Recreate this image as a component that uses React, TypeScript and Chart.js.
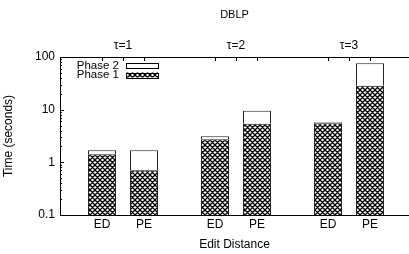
import React, { useEffect, useRef } from 'react';
import { Chart, registerables } from 'chart.js';

Chart.register(...registerables);

// ---- data ----
const chartTitle = 'DBLP';
const taus = [1, 2, 3];
const tauLabels = ['τ=1', 'τ=2', 'τ=3'];
const methods = ['ED', 'PE'];
const edPhase1 = [1.43, 2.75, 5.5];
const edPhase2 = [0.27, 0.39, 0.25];
const pePhase1 = [0.71, 5.4, 28.4];
const pePhase2 = [0.99, 4.1, 47.6];
const yMajorTicks = [0.1, 1, 10, 100];
const yTickLabels = ['0.1', '1', '10', '100'];
const seriesLabels = ['Phase 1', 'Phase 2'];
const xTitle = 'Edit Distance';
const yTitle = 'Time (seconds)';

const CAT_PCT = 0.743;
const BAR_PCT = 0.667;
const X_MIN = 0.4425;
const X_MAX = 3.531;
const FONT = '"Liberation Sans", Arial, Helvetica, sans-serif';

function makePattern(): CanvasPattern | string {
  const s = 5;
  const c = document.createElement('canvas');
  c.width = s;
  c.height = s;
  const g = c.getContext('2d');
  if (!g) return '#555';
  g.fillStyle = '#fff';
  g.fillRect(0, 0, s, s);
  g.strokeStyle = '#000';
  g.lineWidth = 1.3;
  g.beginPath();
  for (const k of [-s, 0, s]) {
    g.moveTo(-1, -1 + k);
    g.lineTo(s + 1, s + 1 + k);
    g.moveTo(s + 1, -1 + k);
    g.lineTo(-1, s + 1 + k);
  }
  g.stroke();
  const p = g.createPattern(c, 'repeat');
  return p || '#555';
}

const inwardTicks = {
  id: 'inwardTicks',
  afterDraw(chart: any) {
    const { ctx, chartArea } = chart;
    const y = chart.scales.y;
    const xb = chart.scales.x;
    const xt = chart.scales.xt;
    ctx.save();
    ctx.strokeStyle = '#000';
    ctx.lineWidth = 1;
    ctx.beginPath();
    y.ticks.forEach((t: any, i: number) => {
      const py = Math.round(y.getPixelForTick(i)) + 0.5;
      const major = yMajorTicks.some((m) => Math.abs(m - t.value) < 1e-9);
      const len = major ? 4 : 2;
      ctx.moveTo(chartArea.left, py);
      ctx.lineTo(chartArea.left + len, py);
    });
    const xs: number[] = [];
    xb.ticks.forEach((_t: any, i: number) => xs.push(xb.getPixelForTick(i)));
    xt.ticks.forEach((_t: any, i: number) => xs.push(xt.getPixelForTick(i)));
    xs.forEach((px) => {
      const x = Math.round(px) + 0.5;
      ctx.moveTo(x, chartArea.top);
      ctx.lineTo(x, chartArea.top + 4);
    });
    ctx.stroke();
    ctx.restore();
  },
};

const keyLegend = {
  id: 'keyLegend',
  afterDraw(chart: any) {
    const { ctx, chartArea } = chart;
    const ds = chart.data.datasets;
    const items = [ds[1], ds[0]];
    ctx.save();
    ctx.font = '11.5px ' + FONT;
    ctx.textAlign = 'right';
    ctx.textBaseline = 'middle';
    items.forEach((d: any, i: number) => {
      const cy = chartArea.top + 8.7 + i * 9.3;
      ctx.fillStyle = '#000';
      ctx.fillText(d.label, chartArea.left + 59, cy);
      ctx.fillStyle = d.backgroundColor;
      ctx.fillRect(chartArea.left + 66, cy - 2.5, 32, 5);
      ctx.strokeStyle = '#000';
      ctx.lineWidth = 1;
      ctx.strokeRect(chartArea.left + 66.5, Math.round(cy - 2.5) + 0.5, 32, 5);
    });
    ctx.restore();
  },
};

export default function App() {
  const ref = useRef<HTMLCanvasElement>(null);

  useEffect(() => {
    document.body.style.margin = '0';
    if (!ref.current) return;
    Chart.defaults.font.family = FONT;
    Chart.defaults.font.size = 12;
    Chart.defaults.color = '#000';
    const pattern = makePattern();
    const toPts = (arr: number[]) => taus.map((t, i) => ({ x: t, y: arr[i] }));
    const common = {
      xAxisID: 'xt',
      borderColor: '#222',
      borderWidth: 1,
      categoryPercentage: CAT_PCT,
      barPercentage: BAR_PCT,
    };
    const chart = new Chart(ref.current, {
      type: 'bar',
      data: {
        datasets: [
          { ...common, label: seriesLabels[0], stack: methods[0], data: toPts(edPhase1), backgroundColor: pattern },
          { ...common, label: seriesLabels[1], stack: methods[0], data: toPts(edPhase2), backgroundColor: '#fff' },
          { ...common, label: seriesLabels[0], stack: methods[1], data: toPts(pePhase1), backgroundColor: pattern },
          { ...common, label: seriesLabels[1], stack: methods[1], data: toPts(pePhase2), backgroundColor: '#fff' },
        ] as any,
      },
      options: {
        responsive: false,
        animation: false,
        layout: { padding: 0 },
        plugins: {
          legend: { display: false },
          tooltip: { enabled: false },
          title: { display: false },
        },
        scales: {
          xt: {
            type: 'linear',
            position: 'top',
            min: X_MIN,
            max: X_MAX,
            offset: false,
            bounds: 'data',
            grid: { display: false, drawTicks: false, offset: false },
            border: { display: true, color: '#000', width: 1 },
            ticks: {
              autoSkip: false,
              maxRotation: 0,
              padding: 4.1,
              callback: (_v: any, i: number) => tauLabels[i],
            },
            title: {
              display: true,
              text: chartTitle,
              font: { size: 11 },
              padding: { top: 8.4, bottom: 0 },
            },
            afterBuildTicks: (s: any) => {
              s.ticks = taus.map((t) => ({ value: t }));
            },
            afterFit: (s: any) => {
              s.height = 57;
            },
          },
          x: {
            type: 'linear',
            position: 'bottom',
            min: X_MIN,
            max: X_MAX,
            offset: false,
            bounds: 'data',
            grid: { display: false, drawTicks: false, offset: false },
            border: { display: true, color: '#000', width: 1 },
            ticks: {
              autoSkip: false,
              maxRotation: 0,
              padding: 2.8,
              callback: (_v: any, i: number) => methods[i % methods.length],
            },
            title: {
              display: true,
              text: xTitle,
              padding: { top: 0, bottom: 1.8 },
            },
            afterBuildTicks: (s: any) => {
              s.ticks = taus.flatMap((t) => [t - CAT_PCT / 4, t + CAT_PCT / 4]).map((value) => ({ value }));
            },
            afterFit: (s: any) => {
              s.height = 39;
            },
          },
          y: {
            type: 'logarithmic',
            min: yMajorTicks[0],
            max: yMajorTicks[yMajorTicks.length - 1],
            stacked: true,
            grid: { display: false, drawTicks: false },
            border: { display: true, color: '#000', width: 1 },
            ticks: {
              autoSkip: false,
              padding: 5,
              callback: (v: any) => {
                const k = yMajorTicks.findIndex((m) => Math.abs(m - Number(v)) < 1e-9);
                return k >= 0 ? yTickLabels[k] : '';
              },
            },
            title: {
              display: true,
              text: yTitle,
              padding: { top: 1.8, bottom: 0 },
            },
            afterBuildTicks: (s: any) => {
              const ticks: { value: number }[] = [];
              for (let d = 0; d < yMajorTicks.length - 1; d++) {
                for (let m = 1; m <= 9; m++) {
                  ticks.push({ value: Number((m * yMajorTicks[d]).toPrecision(4)) });
                }
              }
              ticks.push({ value: yMajorTicks[yMajorTicks.length - 1] });
              s.ticks = ticks;
            },
            afterFit: (s: any) => {
              s.width = 60;
            },
          },
        } as any,
      },
      plugins: [inwardTicks, keyLegend],
    });
    return () => chart.destroy();
  }, []);

  return (
    <div style={{ width: 409, height: 254 }}>
      <canvas ref={ref} width={409} height={254} style={{ display: 'block' }} />
    </div>
  );
}
